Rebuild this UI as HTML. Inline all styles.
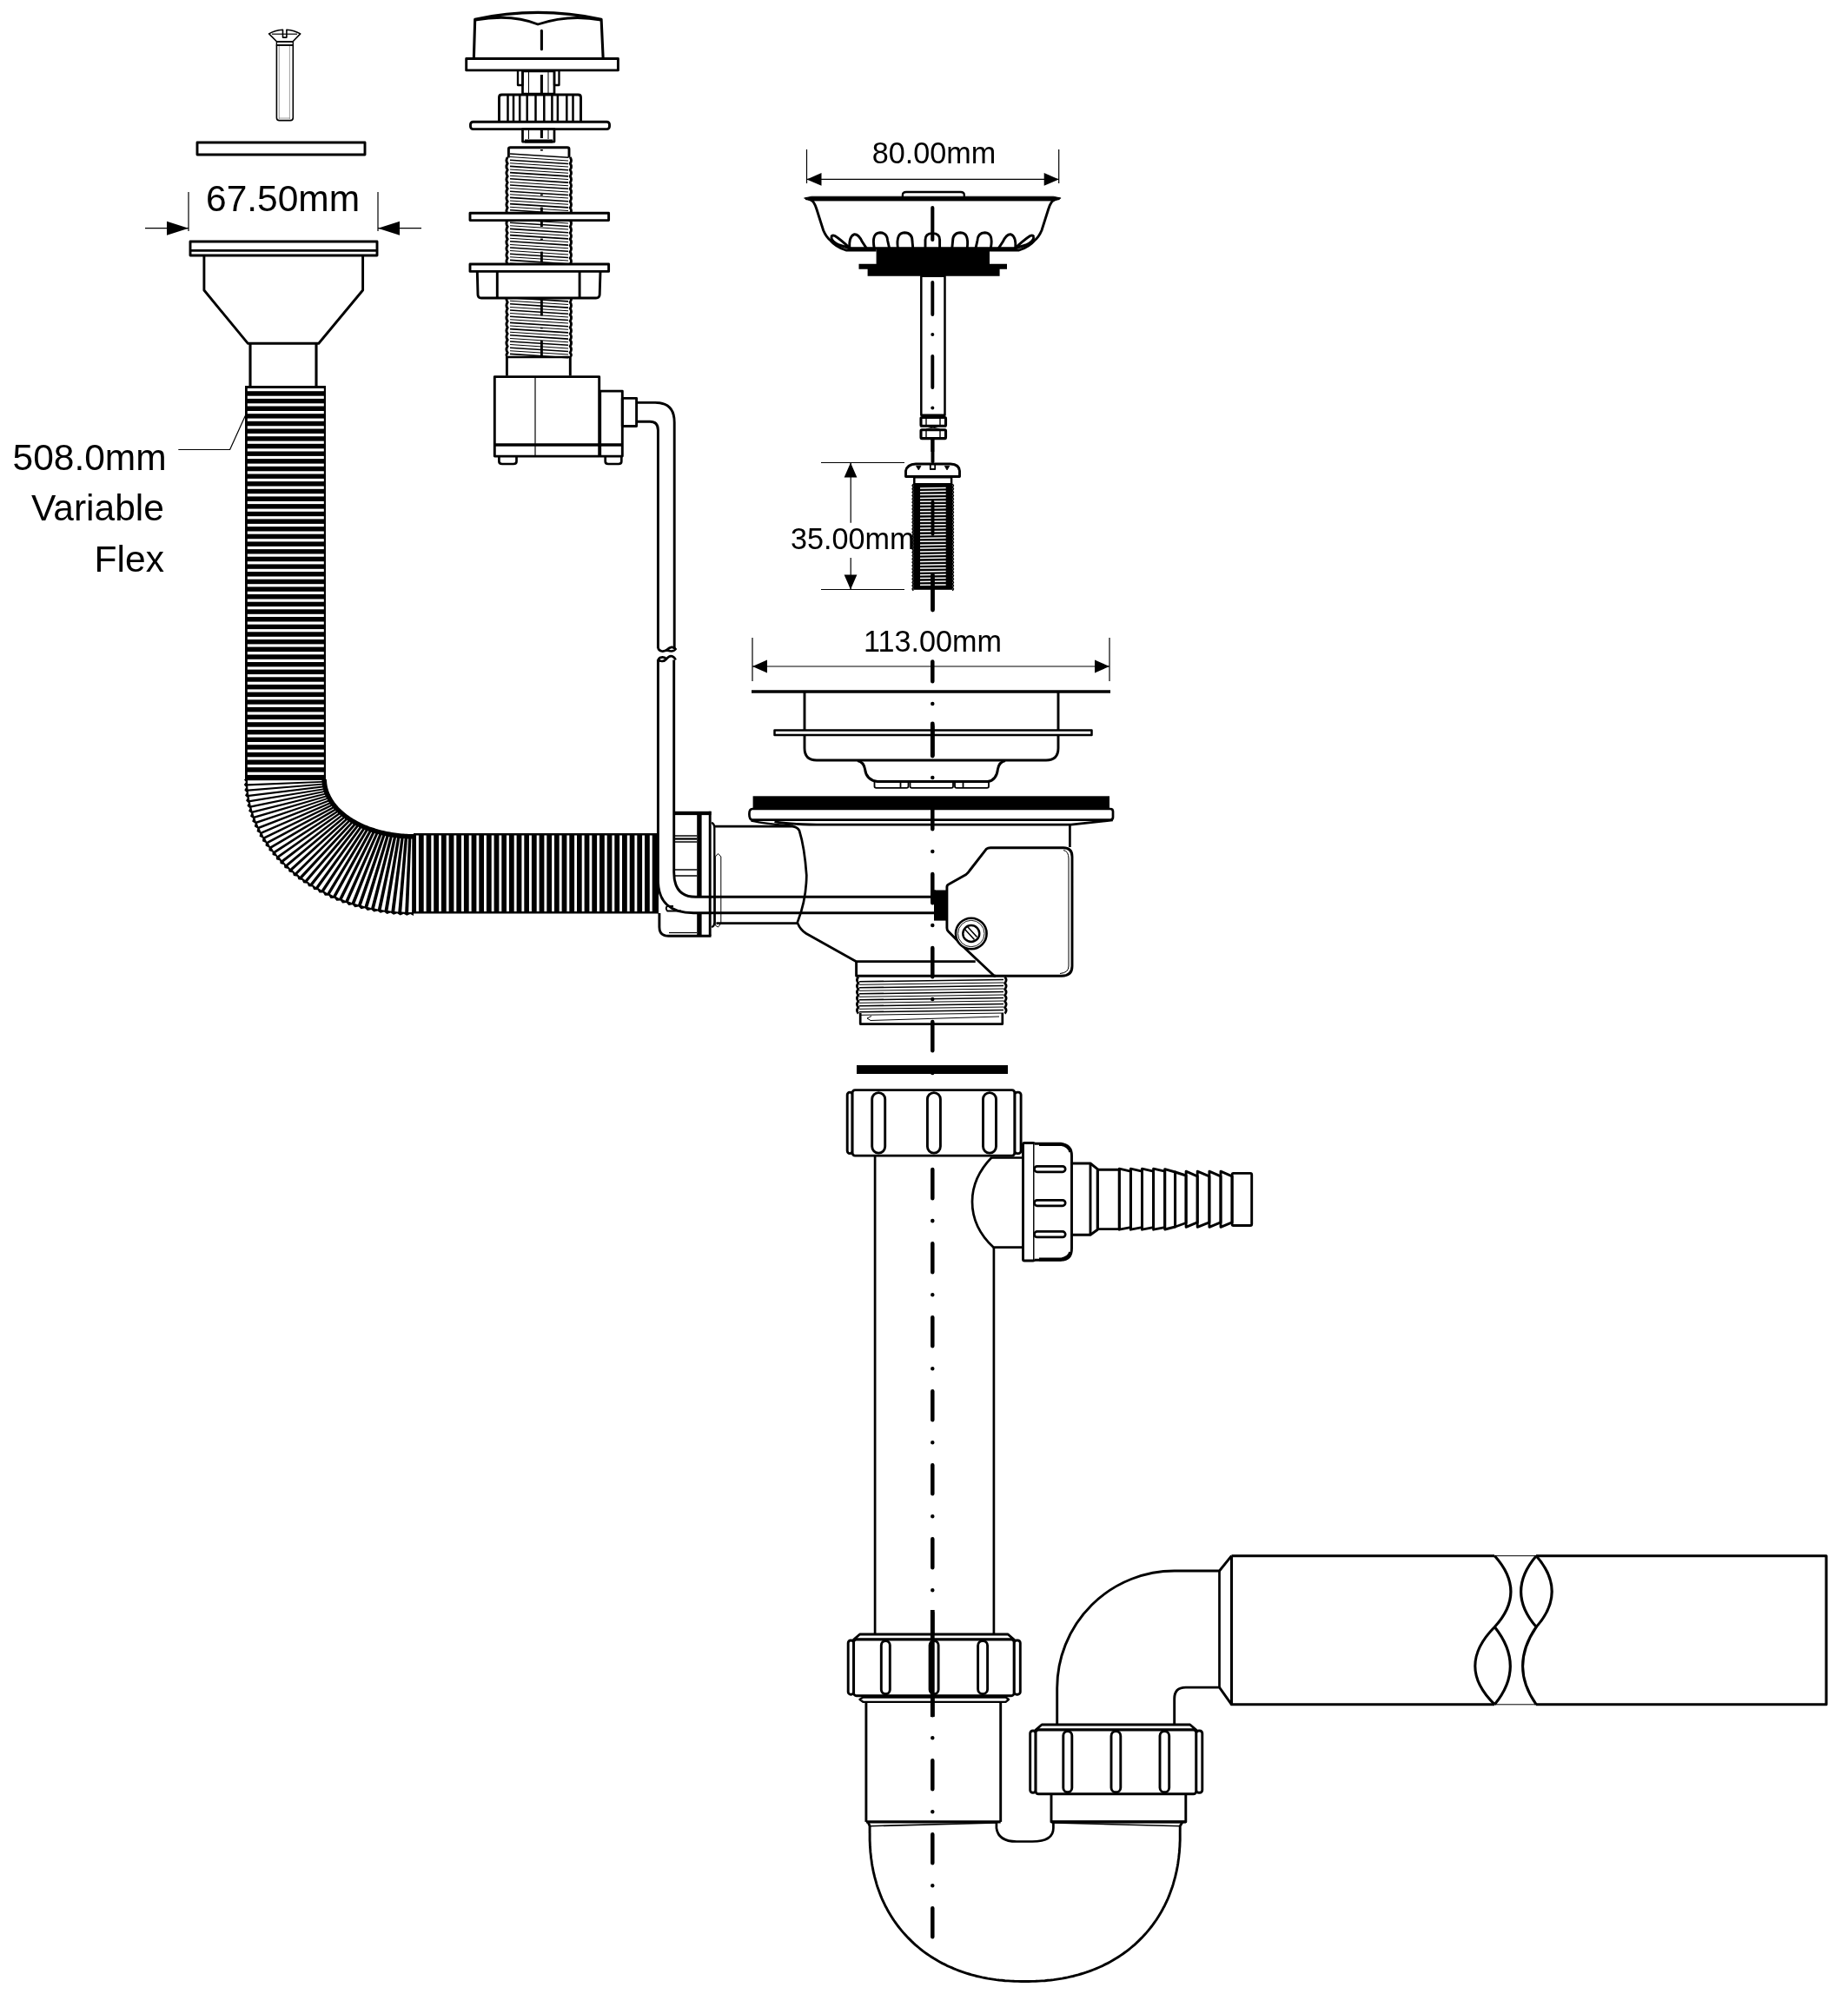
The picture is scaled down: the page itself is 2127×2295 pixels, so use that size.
<!DOCTYPE html>
<html><head><meta charset="utf-8"><style>
html,body{margin:0;padding:0;background:#fff;}
svg{display:block;will-change:transform;}
text{font-family:"Liberation Sans",sans-serif;-webkit-font-smoothing:antialiased;}
</style></head><body>
<svg width="2127" height="2295" viewBox="0 0 2127 2295" stroke="#000" fill="none" stroke-linejoin="round">
<rect x="0" y="0" width="2127" height="2295" fill="#fff" stroke="none"/>
<path d="M309.6,38.9 Q316,35 325.5,34.2 V43.1 H329.9 V34.2 Q339,35 345.7,38.9 L336.9,48 H318.7 Z" stroke-width="1.6" fill="none" />
<line x1="313.0" y1="39.2" x2="342.0" y2="39.2" stroke-width="1.2" />
<line x1="318.7" y1="48.0" x2="336.9" y2="48.0" stroke-width="1.4" />
<path d="M318.4,52 V135.5 Q318.4,138.6 321.5,138.6 H334.2 Q337.3,138.6 337.3,135.5 V52 Z" stroke-width="1.6" fill="none" />
<path d="M318.4,48 V52 H337.3 V48" stroke-width="1.4" fill="none" />
<line x1="321.3" y1="53.0" x2="321.3" y2="137.0" stroke-width="0.8" stroke="#888"/>
<line x1="333.4" y1="53.0" x2="333.4" y2="137.0" stroke-width="0.8" stroke="#888"/>
<line x1="321.0" y1="136.0" x2="334.0" y2="136.0" stroke-width="0.8" stroke="#888"/>
<rect x="227.0" y="164.0" width="193.0" height="14.0" rx="0" stroke-width="2.9" fill="none" />
<line x1="217.0" y1="221.0" x2="217.0" y2="266.0" stroke-width="1.2" />
<line x1="435.0" y1="221.0" x2="435.0" y2="266.0" stroke-width="1.2" />
<line x1="167.0" y1="262.7" x2="217.0" y2="262.7" stroke-width="1.2" />
<line x1="435.0" y1="262.7" x2="485.0" y2="262.7" stroke-width="1.2" />
<path d="M217.0,262.7 L192.0,270.7 L192.0,254.7 Z" fill="#000" stroke="none"/>
<path d="M435.0,262.7 L460.0,254.7 L460.0,270.7 Z" fill="#000" stroke="none"/>
<text x="237.0" y="243.3" font-size="42.5" text-anchor="start" fill="#000" stroke="none">67.50mm</text>
<rect x="219.0" y="278.0" width="215.0" height="16.0" rx="0" stroke-width="2.9" fill="none" />
<line x1="220.0" y1="288.3" x2="433.0" y2="288.3" stroke-width="2.7" />
<path d="M234.9,294 V334 L285.2,395.2 H366.8 L417.6,334 V294" stroke-width="2.9" fill="none" />
<line x1="288.0" y1="396.0" x2="288.0" y2="444.0" stroke-width="3.1" />
<line x1="364.0" y1="396.0" x2="364.0" y2="444.0" stroke-width="3.1" />
<rect x="282.0" y="444.0" width="93.0" height="453.0" fill="#000" stroke="none"/>
<rect x="284.8" y="447.0" width="88" height="3.2" fill="#fff" stroke="none"/>
<rect x="284.8" y="455.7" width="88" height="3.2" fill="#fff" stroke="none"/>
<rect x="284.8" y="464.3" width="88" height="3.2" fill="#fff" stroke="none"/>
<rect x="284.8" y="473.0" width="88" height="3.2" fill="#fff" stroke="none"/>
<rect x="284.8" y="481.6" width="88" height="3.2" fill="#fff" stroke="none"/>
<rect x="284.8" y="490.3" width="88" height="3.2" fill="#fff" stroke="none"/>
<rect x="284.8" y="499.0" width="88" height="3.2" fill="#fff" stroke="none"/>
<rect x="284.8" y="507.6" width="88" height="3.2" fill="#fff" stroke="none"/>
<rect x="284.8" y="516.3" width="88" height="3.2" fill="#fff" stroke="none"/>
<rect x="284.8" y="524.9" width="88" height="3.2" fill="#fff" stroke="none"/>
<rect x="284.8" y="533.6" width="88" height="3.2" fill="#fff" stroke="none"/>
<rect x="284.8" y="542.3" width="88" height="3.2" fill="#fff" stroke="none"/>
<rect x="284.8" y="550.9" width="88" height="3.2" fill="#fff" stroke="none"/>
<rect x="284.8" y="559.6" width="88" height="3.2" fill="#fff" stroke="none"/>
<rect x="284.8" y="568.2" width="88" height="3.2" fill="#fff" stroke="none"/>
<rect x="284.8" y="576.9" width="88" height="3.2" fill="#fff" stroke="none"/>
<rect x="284.8" y="585.6" width="88" height="3.2" fill="#fff" stroke="none"/>
<rect x="284.8" y="594.2" width="88" height="3.2" fill="#fff" stroke="none"/>
<rect x="284.8" y="602.9" width="88" height="3.2" fill="#fff" stroke="none"/>
<rect x="284.8" y="611.5" width="88" height="3.2" fill="#fff" stroke="none"/>
<rect x="284.8" y="620.2" width="88" height="3.2" fill="#fff" stroke="none"/>
<rect x="284.8" y="628.9" width="88" height="3.2" fill="#fff" stroke="none"/>
<rect x="284.8" y="637.5" width="88" height="3.2" fill="#fff" stroke="none"/>
<rect x="284.8" y="646.2" width="88" height="3.2" fill="#fff" stroke="none"/>
<rect x="284.8" y="654.8" width="88" height="3.2" fill="#fff" stroke="none"/>
<rect x="284.8" y="663.5" width="88" height="3.2" fill="#fff" stroke="none"/>
<rect x="284.8" y="672.2" width="88" height="3.2" fill="#fff" stroke="none"/>
<rect x="284.8" y="680.8" width="88" height="3.2" fill="#fff" stroke="none"/>
<rect x="284.8" y="689.5" width="88" height="3.2" fill="#fff" stroke="none"/>
<rect x="284.8" y="698.1" width="88" height="3.2" fill="#fff" stroke="none"/>
<rect x="284.8" y="706.8" width="88" height="3.2" fill="#fff" stroke="none"/>
<rect x="284.8" y="715.5" width="88" height="3.2" fill="#fff" stroke="none"/>
<rect x="284.8" y="724.1" width="88" height="3.2" fill="#fff" stroke="none"/>
<rect x="284.8" y="732.8" width="88" height="3.2" fill="#fff" stroke="none"/>
<rect x="284.8" y="741.4" width="88" height="3.2" fill="#fff" stroke="none"/>
<rect x="284.8" y="750.1" width="88" height="3.2" fill="#fff" stroke="none"/>
<rect x="284.8" y="758.8" width="88" height="3.2" fill="#fff" stroke="none"/>
<rect x="284.8" y="767.4" width="88" height="3.2" fill="#fff" stroke="none"/>
<rect x="284.8" y="776.1" width="88" height="3.2" fill="#fff" stroke="none"/>
<rect x="284.8" y="784.7" width="88" height="3.2" fill="#fff" stroke="none"/>
<rect x="284.8" y="793.4" width="88" height="3.2" fill="#fff" stroke="none"/>
<rect x="284.8" y="802.1" width="88" height="3.2" fill="#fff" stroke="none"/>
<rect x="284.8" y="810.7" width="88" height="3.2" fill="#fff" stroke="none"/>
<rect x="284.8" y="819.4" width="88" height="3.2" fill="#fff" stroke="none"/>
<rect x="284.8" y="828.0" width="88" height="3.2" fill="#fff" stroke="none"/>
<rect x="284.8" y="836.7" width="88" height="3.2" fill="#fff" stroke="none"/>
<rect x="284.8" y="845.4" width="88" height="3.2" fill="#fff" stroke="none"/>
<rect x="284.8" y="854.0" width="88" height="3.2" fill="#fff" stroke="none"/>
<rect x="284.8" y="862.7" width="88" height="3.2" fill="#fff" stroke="none"/>
<rect x="284.8" y="871.3" width="88" height="3.2" fill="#fff" stroke="none"/>
<rect x="284.8" y="880.0" width="88" height="3.2" fill="#fff" stroke="none"/>
<rect x="284.8" y="888.7" width="88" height="3.2" fill="#fff" stroke="none"/>
<path d="M280.7,897.0 L283.0,900.0 L280.8,903.2 L283.3,906.1 L281.3,909.3 L283.9,912.2 L282.0,915.4 L284.8,918.2 L283.1,921.5 L286.0,924.2 L284.4,927.6 L287.5,930.2 L286.1,933.6 L289.3,936.1 L288.0,939.6 L291.3,942.0 L290.2,945.5 L293.7,947.8 L292.8,951.3 L296.3,953.5 L295.6,957.0 L299.2,959.1 L298.6,962.7 L302.3,964.6 L302.0,968.2 L305.8,970.1 L305.6,973.6 L309.5,975.4 L309.5,979.0 L313.5,980.6 L313.6,984.1 L317.7,985.6 L318.0,989.2 L322.1,990.6 L322.6,994.1 L326.8,995.3 L327.5,998.9 L331.7,1000.0 L332.6,1003.5 L336.9,1004.4 L337.9,1007.9 L342.2,1008.7 L343.4,1012.2 L347.8,1012.9 L349.2,1016.3 L353.6,1016.8 L355.1,1020.2 L359.5,1020.6 L361.2,1023.9 L365.6,1024.2 L367.5,1027.4 L371.9,1027.5 L373.9,1030.7 L378.4,1030.7 L380.6,1033.9 L385.0,1033.7 L387.3,1036.8 L391.8,1036.5 L394.2,1039.5 L398.7,1039.0 L401.3,1041.9 L405.7,1041.3 L408.4,1044.2 L412.8,1043.4 L415.6,1046.2 L420.0,1045.3 L423.0,1048.0 L427.3,1047.0 L430.4,1049.5 L434.6,1048.4 L437.9,1050.8 L442.1,1049.6 L445.4,1051.9 L449.6,1050.5 L453.0,1052.8 L457.1,1051.3 L460.7,1053.4 L464.6,1051.7 L468.3,1053.7 L472.2,1052.0 L476.0,1053.9 L476.0,960.0 L474.0,960.0 L472.1,960.0 L470.1,959.9 L468.2,959.8 L466.2,959.7 L464.2,959.6 L462.3,959.4 L460.4,959.2 L458.4,959.0 L456.5,958.8 L454.6,958.5 L452.7,958.3 L450.8,958.0 L448.9,957.6 L447.0,957.3 L445.1,956.9 L443.2,956.5 L441.4,956.1 L439.6,955.7 L437.7,955.2 L435.9,954.7 L434.1,954.2 L432.4,953.7 L430.6,953.1 L428.9,952.6 L427.1,952.0 L425.4,951.4 L423.8,950.7 L422.1,950.1 L420.4,949.4 L418.8,948.7 L417.2,948.0 L415.6,947.2 L414.1,946.5 L412.6,945.7 L411.1,944.9 L409.6,944.1 L408.1,943.3 L406.7,942.4 L405.3,941.5 L403.9,940.7 L402.6,939.8 L401.2,938.8 L400.0,937.9 L398.7,937.0 L397.5,936.0 L396.3,935.0 L395.1,934.0 L394.0,933.0 L392.9,932.0 L391.8,931.0 L390.7,929.9 L389.7,928.9 L388.8,927.8 L387.8,926.7 L386.9,925.6 L386.0,924.5 L385.2,923.4 L384.4,922.2 L383.6,921.1 L382.9,920.0 L382.2,918.8 L381.5,917.6 L380.9,916.5 L380.3,915.3 L379.8,914.1 L379.2,912.9 L378.8,911.7 L378.3,910.5 L377.9,909.3 L377.6,908.1 L377.2,906.9 L376.9,905.6 L376.7,904.4 L376.5,903.2 L376.3,901.9 L376.2,900.7 L376.1,899.5 L376.0,898.2 L376.0,897.0 Z" stroke-width="0.0" fill="#000" stroke="none"/>
<path d="M370.4,897.9 L285.0,898.2 L285.1,902.2 L370.5,898.9 Z" fill="#fff" stroke="none"/>
<path d="M370.6,900.7 L285.2,904.5 L285.5,908.5 L370.7,901.7 Z" fill="#fff" stroke="none"/>
<path d="M370.9,903.6 L285.8,910.8 L286.2,914.8 L371.0,904.6 Z" fill="#fff" stroke="none"/>
<path d="M371.5,906.4 L286.7,917.1 L287.3,921.0 L371.6,907.4 Z" fill="#fff" stroke="none"/>
<path d="M372.1,909.2 L287.9,923.3 L288.7,927.3 L372.3,910.2 Z" fill="#fff" stroke="none"/>
<path d="M373.0,912.0 L289.5,929.5 L290.4,933.4 L373.2,912.9 Z" fill="#fff" stroke="none"/>
<path d="M374.1,914.7 L291.3,935.7 L292.4,939.5 L374.3,915.7 Z" fill="#fff" stroke="none"/>
<path d="M375.3,917.4 L293.5,941.8 L294.7,945.6 L375.6,918.4 Z" fill="#fff" stroke="none"/>
<path d="M376.7,920.1 L296.0,947.8 L297.4,951.5 L377.0,921.1 Z" fill="#fff" stroke="none"/>
<path d="M378.3,922.8 L298.8,953.7 L300.3,957.4 L378.6,923.7 Z" fill="#fff" stroke="none"/>
<path d="M380.0,925.4 L301.9,959.5 L303.5,963.2 L380.4,926.3 Z" fill="#fff" stroke="none"/>
<path d="M381.9,927.9 L305.3,965.2 L307.1,968.8 L382.4,928.8 Z" fill="#fff" stroke="none"/>
<path d="M384.0,930.4 L309.0,970.8 L310.9,974.3 L384.4,931.3 Z" fill="#fff" stroke="none"/>
<path d="M386.2,932.9 L312.9,976.3 L315.0,979.7 L386.7,933.7 Z" fill="#fff" stroke="none"/>
<path d="M388.5,935.2 L317.2,981.7 L319.4,985.0 L389.1,936.1 Z" fill="#fff" stroke="none"/>
<path d="M391.1,937.6 L321.7,986.8 L324.1,990.1 L391.7,938.4 Z" fill="#fff" stroke="none"/>
<path d="M393.7,939.8 L326.5,991.9 L329.0,995.0 L394.4,940.6 Z" fill="#fff" stroke="none"/>
<path d="M396.5,942.0 L331.5,996.8 L334.1,999.8 L397.2,942.7 Z" fill="#fff" stroke="none"/>
<path d="M399.5,944.1 L336.8,1001.5 L339.6,1004.4 L400.2,944.8 Z" fill="#fff" stroke="none"/>
<path d="M402.5,946.1 L342.3,1006.0 L345.2,1008.8 L403.3,946.8 Z" fill="#fff" stroke="none"/>
<path d="M405.7,948.0 L348.1,1010.4 L351.1,1013.0 L406.5,948.7 Z" fill="#fff" stroke="none"/>
<path d="M409.1,949.9 L354.0,1014.5 L357.1,1017.0 L409.8,950.5 Z" fill="#fff" stroke="none"/>
<path d="M412.5,951.6 L360.2,1018.5 L363.4,1020.9 L413.3,952.2 Z" fill="#fff" stroke="none"/>
<path d="M416.0,953.3 L366.6,1022.2 L369.9,1024.5 L416.9,953.9 Z" fill="#fff" stroke="none"/>
<path d="M419.7,954.9 L373.2,1025.7 L376.6,1027.9 L420.5,955.4 Z" fill="#fff" stroke="none"/>
<path d="M423.4,956.3 L379.9,1029.0 L383.4,1031.0 L424.3,956.8 Z" fill="#fff" stroke="none"/>
<path d="M427.2,957.7 L386.8,1032.1 L390.4,1034.0 L428.1,958.2 Z" fill="#fff" stroke="none"/>
<path d="M431.1,959.0 L393.9,1035.0 L397.5,1036.7 L432.1,959.4 Z" fill="#fff" stroke="none"/>
<path d="M435.1,960.1 L401.1,1037.6 L404.8,1039.1 L436.1,960.5 Z" fill="#fff" stroke="none"/>
<path d="M439.2,961.2 L408.4,1040.0 L412.1,1041.3 L440.1,961.5 Z" fill="#fff" stroke="none"/>
<path d="M443.3,962.1 L415.8,1042.1 L419.6,1043.3 L444.3,962.4 Z" fill="#fff" stroke="none"/>
<path d="M447.5,962.9 L423.4,1044.0 L427.2,1045.0 L448.5,963.2 Z" fill="#fff" stroke="none"/>
<path d="M451.7,963.6 L431.0,1045.6 L434.9,1046.5 L452.7,963.9 Z" fill="#fff" stroke="none"/>
<path d="M456.0,964.2 L438.7,1047.0 L442.6,1047.7 L457.0,964.4 Z" fill="#fff" stroke="none"/>
<path d="M460.3,964.7 L446.5,1048.1 L450.4,1048.7 L461.3,964.9 Z" fill="#fff" stroke="none"/>
<path d="M464.6,965.1 L454.3,1049.0 L458.3,1049.4 L465.6,965.2 Z" fill="#fff" stroke="none"/>
<path d="M469.0,965.4 L462.2,1049.6 L466.2,1049.8 L470.0,965.4 Z" fill="#fff" stroke="none"/>
<path d="M473.3,965.5 L470.1,1049.9 L474.1,1050.0 L474.3,965.5 Z" fill="#fff" stroke="none"/>
<rect x="476.0" y="959.0" width="282.0" height="92.5" fill="#000" stroke="none"/>
<rect x="479.0" y="961.5" width="2.9" height="87.5" fill="#fff" stroke="none"/>
<rect x="487.7" y="961.5" width="2.9" height="87.5" fill="#fff" stroke="none"/>
<rect x="496.3" y="961.5" width="2.9" height="87.5" fill="#fff" stroke="none"/>
<rect x="505.0" y="961.5" width="2.9" height="87.5" fill="#fff" stroke="none"/>
<rect x="513.7" y="961.5" width="2.9" height="87.5" fill="#fff" stroke="none"/>
<rect x="522.4" y="961.5" width="2.9" height="87.5" fill="#fff" stroke="none"/>
<rect x="531.0" y="961.5" width="2.9" height="87.5" fill="#fff" stroke="none"/>
<rect x="539.7" y="961.5" width="2.9" height="87.5" fill="#fff" stroke="none"/>
<rect x="548.4" y="961.5" width="2.9" height="87.5" fill="#fff" stroke="none"/>
<rect x="557.0" y="961.5" width="2.9" height="87.5" fill="#fff" stroke="none"/>
<rect x="565.7" y="961.5" width="2.9" height="87.5" fill="#fff" stroke="none"/>
<rect x="574.4" y="961.5" width="2.9" height="87.5" fill="#fff" stroke="none"/>
<rect x="583.0" y="961.5" width="2.9" height="87.5" fill="#fff" stroke="none"/>
<rect x="591.7" y="961.5" width="2.9" height="87.5" fill="#fff" stroke="none"/>
<rect x="600.4" y="961.5" width="2.9" height="87.5" fill="#fff" stroke="none"/>
<rect x="609.0" y="961.5" width="2.9" height="87.5" fill="#fff" stroke="none"/>
<rect x="617.7" y="961.5" width="2.9" height="87.5" fill="#fff" stroke="none"/>
<rect x="626.4" y="961.5" width="2.9" height="87.5" fill="#fff" stroke="none"/>
<rect x="635.1" y="961.5" width="2.9" height="87.5" fill="#fff" stroke="none"/>
<rect x="643.7" y="961.5" width="2.9" height="87.5" fill="#fff" stroke="none"/>
<rect x="652.4" y="961.5" width="2.9" height="87.5" fill="#fff" stroke="none"/>
<rect x="661.1" y="961.5" width="2.9" height="87.5" fill="#fff" stroke="none"/>
<rect x="669.7" y="961.5" width="2.9" height="87.5" fill="#fff" stroke="none"/>
<rect x="678.4" y="961.5" width="2.9" height="87.5" fill="#fff" stroke="none"/>
<rect x="687.1" y="961.5" width="2.9" height="87.5" fill="#fff" stroke="none"/>
<rect x="695.8" y="961.5" width="2.9" height="87.5" fill="#fff" stroke="none"/>
<rect x="704.4" y="961.5" width="2.9" height="87.5" fill="#fff" stroke="none"/>
<rect x="713.1" y="961.5" width="2.9" height="87.5" fill="#fff" stroke="none"/>
<rect x="721.8" y="961.5" width="2.9" height="87.5" fill="#fff" stroke="none"/>
<rect x="730.4" y="961.5" width="2.9" height="87.5" fill="#fff" stroke="none"/>
<rect x="739.1" y="961.5" width="2.9" height="87.5" fill="#fff" stroke="none"/>
<rect x="747.8" y="961.5" width="2.9" height="87.5" fill="#fff" stroke="none"/>
<text x="14.5" y="541.4" font-size="42.5" text-anchor="start" fill="#000" stroke="none">508.0mm</text>
<text x="36.1" y="599" font-size="42.5" text-anchor="start" fill="#000" stroke="none">Variable</text>
<text x="108.6" y="657.5" font-size="42.5" text-anchor="start" fill="#000" stroke="none">Flex</text>
<path d="M205.3,517.5 H264.6 L282.3,478.5" stroke-width="1.2" fill="none" />
<path d="M545.4,66 L546.7,22.2 Q619,6.5 692.1,22.2 L694.1,66" stroke-width="3.1" fill="none" />
<path d="M546.7,23 C575,18 600,20 619.1,28 C640,21 665,18 692,23" stroke-width="2.9" fill="none" />
<line x1="623.4" y1="35.2" x2="623.4" y2="56.7" stroke-width="3.1" stroke-linecap="round"/>
<rect x="536.7" y="67.5" width="174.7" height="13.4" rx="0" stroke-width="2.9" fill="none" />
<rect x="601.5" y="82.0" width="36.5" height="26.0" rx="0" stroke-width="2.7" fill="none" />
<path d="M601.5,82 V98 H596 V82" stroke-width="2.3" fill="none" />
<path d="M638,82 V98 H643.5 V82" stroke-width="2.3" fill="none" />
<line x1="608.5" y1="83.0" x2="608.5" y2="107.0" stroke-width="1.0" />
<line x1="631.0" y1="83.0" x2="631.0" y2="107.0" stroke-width="1.0" />
<line x1="623.4" y1="86.0" x2="623.4" y2="108.0" stroke-width="3.1" />
<path d="M574.5,139.5 V112 Q574.5,109 577.5,109 H665.5 Q668.5,109 668.5,112 V139.5" stroke-width="2.9" fill="none" />
<line x1="584.5" y1="110.0" x2="584.5" y2="139.0" stroke-width="2.5" />
<line x1="591.0" y1="110.0" x2="591.0" y2="139.0" stroke-width="2.5" />
<line x1="598.2" y1="110.0" x2="598.2" y2="139.0" stroke-width="2.5" />
<line x1="606.7" y1="110.0" x2="606.7" y2="139.0" stroke-width="2.5" />
<line x1="616.5" y1="110.0" x2="616.5" y2="139.0" stroke-width="2.5" />
<line x1="626.3" y1="110.0" x2="626.3" y2="139.0" stroke-width="2.5" />
<line x1="635.4" y1="110.0" x2="635.4" y2="139.0" stroke-width="2.5" />
<line x1="641.9" y1="110.0" x2="641.9" y2="139.0" stroke-width="2.5" />
<line x1="652.3" y1="110.0" x2="652.3" y2="139.0" stroke-width="2.5" />
<line x1="659.5" y1="110.0" x2="659.5" y2="139.0" stroke-width="2.5" />
<rect x="541.5" y="140.2" width="160.0" height="8.4" rx="3" stroke-width="2.9" fill="none" />
<rect x="601.5" y="148.6" width="36.5" height="14.5" rx="0" stroke-width="2.7" fill="none" />
<rect x="604.0" y="160.5" width="32.0" height="4.0" fill="#000" stroke="none"/>
<line x1="623.4" y1="149.0" x2="623.4" y2="159.0" stroke-width="3.1" />
<line x1="608.5" y1="149.0" x2="608.5" y2="160.0" stroke-width="1.0" />
<line x1="631.0" y1="149.0" x2="631.0" y2="160.0" stroke-width="1.0" />
<path d="M585.4,181.6 V171.5 Q585.4,169.7 587.5,169.7 H653 Q655,169.7 655,171.5 V181.6" stroke-width="2.9" fill="none" />
<line x1="587.0" y1="177.0" x2="654.0" y2="181.3" stroke-width="1.62"/>
<line x1="587.0" y1="180.6" x2="654.0" y2="184.9" stroke-width="1.04"/>
<line x1="587.0" y1="184.2" x2="654.0" y2="188.5" stroke-width="1.62"/>
<line x1="587.0" y1="187.8" x2="654.0" y2="192.1" stroke-width="1.04"/>
<line x1="587.0" y1="191.4" x2="654.0" y2="195.7" stroke-width="1.62"/>
<line x1="587.0" y1="195.0" x2="654.0" y2="199.3" stroke-width="1.04"/>
<line x1="587.0" y1="198.6" x2="654.0" y2="202.9" stroke-width="1.62"/>
<line x1="587.0" y1="202.2" x2="654.0" y2="206.5" stroke-width="1.04"/>
<line x1="587.0" y1="205.8" x2="654.0" y2="210.1" stroke-width="1.62"/>
<line x1="587.0" y1="209.4" x2="654.0" y2="213.7" stroke-width="1.04"/>
<line x1="587.0" y1="213.0" x2="654.0" y2="217.3" stroke-width="1.62"/>
<line x1="587.0" y1="216.6" x2="654.0" y2="220.9" stroke-width="1.04"/>
<line x1="587.0" y1="220.2" x2="654.0" y2="224.5" stroke-width="1.62"/>
<line x1="587.0" y1="223.8" x2="654.0" y2="228.1" stroke-width="1.04"/>
<line x1="587.0" y1="227.4" x2="654.0" y2="231.7" stroke-width="1.62"/>
<line x1="587.0" y1="231.0" x2="654.0" y2="235.3" stroke-width="1.04"/>
<line x1="587.0" y1="234.6" x2="654.0" y2="238.9" stroke-width="1.62"/>
<line x1="587.0" y1="238.2" x2="654.0" y2="242.5" stroke-width="1.04"/>
<line x1="587.0" y1="241.8" x2="654.0" y2="246.1" stroke-width="1.62"/>
<line x1="587.0" y1="245.4" x2="654.0" y2="249.7" stroke-width="1.04"/>
<line x1="587.0" y1="249.0" x2="654.0" y2="253.3" stroke-width="1.62"/>
<line x1="587.0" y1="252.6" x2="654.0" y2="256.9" stroke-width="1.04"/>
<line x1="587.0" y1="256.2" x2="654.0" y2="260.5" stroke-width="1.62"/>
<line x1="587.0" y1="259.8" x2="654.0" y2="264.1" stroke-width="1.04"/>
<line x1="587.0" y1="263.4" x2="654.0" y2="267.7" stroke-width="1.62"/>
<line x1="587.0" y1="267.0" x2="654.0" y2="271.3" stroke-width="1.04"/>
<line x1="587.0" y1="270.6" x2="654.0" y2="274.9" stroke-width="1.62"/>
<line x1="587.0" y1="274.2" x2="654.0" y2="278.5" stroke-width="1.04"/>
<line x1="587.0" y1="277.8" x2="654.0" y2="282.1" stroke-width="1.62"/>
<line x1="587.0" y1="281.4" x2="654.0" y2="285.7" stroke-width="1.04"/>
<line x1="587.0" y1="285.0" x2="654.0" y2="289.3" stroke-width="1.62"/>
<line x1="587.0" y1="288.6" x2="654.0" y2="292.9" stroke-width="1.04"/>
<line x1="587.0" y1="292.2" x2="654.0" y2="296.5" stroke-width="1.62"/>
<line x1="587.0" y1="295.8" x2="654.0" y2="300.1" stroke-width="1.04"/>
<line x1="587.0" y1="299.4" x2="654.0" y2="303.7" stroke-width="1.62"/>
<line x1="587.0" y1="303.0" x2="654.0" y2="307.3" stroke-width="1.04"/>
<line x1="587.0" y1="306.6" x2="654.0" y2="310.9" stroke-width="1.62"/>
<line x1="587.0" y1="310.2" x2="654.0" y2="314.5" stroke-width="1.04"/>
<line x1="587.0" y1="313.8" x2="654.0" y2="318.1" stroke-width="1.62"/>
<line x1="587.0" y1="317.4" x2="654.0" y2="321.7" stroke-width="1.04"/>
<line x1="587.0" y1="321.0" x2="654.0" y2="325.3" stroke-width="1.62"/>
<line x1="587.0" y1="324.6" x2="654.0" y2="328.9" stroke-width="1.04"/>
<line x1="587.0" y1="328.2" x2="654.0" y2="332.5" stroke-width="1.62"/>
<line x1="587.0" y1="331.8" x2="654.0" y2="336.1" stroke-width="1.04"/>
<line x1="587.0" y1="335.4" x2="654.0" y2="339.7" stroke-width="1.62"/>
<line x1="587.0" y1="339.0" x2="654.0" y2="343.3" stroke-width="1.04"/>
<line x1="587.0" y1="342.6" x2="654.0" y2="346.9" stroke-width="1.62"/>
<line x1="587.0" y1="346.2" x2="654.0" y2="350.5" stroke-width="1.04"/>
<line x1="587.0" y1="349.8" x2="654.0" y2="354.1" stroke-width="1.62"/>
<line x1="587.0" y1="353.4" x2="654.0" y2="357.7" stroke-width="1.04"/>
<line x1="587.0" y1="357.0" x2="654.0" y2="361.3" stroke-width="1.62"/>
<line x1="587.0" y1="360.6" x2="654.0" y2="364.9" stroke-width="1.04"/>
<line x1="587.0" y1="364.2" x2="654.0" y2="368.5" stroke-width="1.62"/>
<line x1="587.0" y1="367.8" x2="654.0" y2="372.1" stroke-width="1.04"/>
<line x1="587.0" y1="371.4" x2="654.0" y2="375.7" stroke-width="1.62"/>
<line x1="587.0" y1="375.0" x2="654.0" y2="379.3" stroke-width="1.04"/>
<line x1="587.0" y1="378.6" x2="654.0" y2="382.9" stroke-width="1.62"/>
<line x1="587.0" y1="382.2" x2="654.0" y2="386.5" stroke-width="1.04"/>
<line x1="587.0" y1="385.8" x2="654.0" y2="390.1" stroke-width="1.62"/>
<line x1="587.0" y1="389.4" x2="654.0" y2="393.7" stroke-width="1.04"/>
<line x1="587.0" y1="393.0" x2="654.0" y2="397.3" stroke-width="1.62"/>
<line x1="587.0" y1="396.6" x2="654.0" y2="400.9" stroke-width="1.04"/>
<line x1="587.0" y1="400.2" x2="654.0" y2="404.5" stroke-width="1.62"/>
<line x1="587.0" y1="403.8" x2="654.0" y2="408.1" stroke-width="1.04"/>
<line x1="587.0" y1="407.4" x2="654.0" y2="411.7" stroke-width="1.62"/>
<path d="M584.2,181.0 Q581.6,184.6 584.2,188.2 Q581.6,191.9 584.2,195.5 Q581.6,199.1 584.2,202.8 Q581.6,206.4 584.2,210.0 Q581.6,213.6 584.2,217.2 Q581.6,220.9 584.2,224.5 Q581.6,228.1 584.2,231.8 Q581.6,235.4 584.2,239.0 Q581.6,242.6 584.2,246.2 Q581.6,249.9 584.2,253.5 Q581.6,257.1 584.2,260.8 Q581.6,264.4 584.2,268.0 Q581.6,271.6 584.2,275.2 Q581.6,278.9 584.2,282.5 Q581.6,286.1 584.2,289.8 Q581.6,293.4 584.2,297.0 Q581.6,300.6 584.2,304.2 Q581.6,307.9 584.2,311.5 Q581.6,315.1 584.2,318.8 Q581.6,322.4 584.2,326.0 Q581.6,329.6 584.2,333.2 Q581.6,336.9 584.2,340.5 Q581.6,344.1 584.2,347.8 Q581.6,351.4 584.2,355.0 Q581.6,358.6 584.2,362.2 Q581.6,365.9 584.2,369.5 Q581.6,373.1 584.2,376.8 Q581.6,380.4 584.2,384.0 Q581.6,387.6 584.2,391.2 Q581.6,394.9 584.2,398.5 Q581.6,402.1 584.2,405.8 Q581.6,409.4 584.2,410.0 " stroke-width="2.9" fill="none" />
<g transform="translate(1240.4,0) scale(-1,1)">
<path d="M584.2,181.0 Q581.6,184.6 584.2,188.2 Q581.6,191.9 584.2,195.5 Q581.6,199.1 584.2,202.8 Q581.6,206.4 584.2,210.0 Q581.6,213.6 584.2,217.2 Q581.6,220.9 584.2,224.5 Q581.6,228.1 584.2,231.8 Q581.6,235.4 584.2,239.0 Q581.6,242.6 584.2,246.2 Q581.6,249.9 584.2,253.5 Q581.6,257.1 584.2,260.8 Q581.6,264.4 584.2,268.0 Q581.6,271.6 584.2,275.2 Q581.6,278.9 584.2,282.5 Q581.6,286.1 584.2,289.8 Q581.6,293.4 584.2,297.0 Q581.6,300.6 584.2,304.2 Q581.6,307.9 584.2,311.5 Q581.6,315.1 584.2,318.8 Q581.6,322.4 584.2,326.0 Q581.6,329.6 584.2,333.2 Q581.6,336.9 584.2,340.5 Q581.6,344.1 584.2,347.8 Q581.6,351.4 584.2,355.0 Q581.6,358.6 584.2,362.2 Q581.6,365.9 584.2,369.5 Q581.6,373.1 584.2,376.8 Q581.6,380.4 584.2,384.0 Q581.6,387.6 584.2,391.2 Q581.6,394.9 584.2,398.5 Q581.6,402.1 584.2,405.8 Q581.6,409.4 584.2,410.0 " stroke-width="2.9" fill="none" />
</g>
<rect x="541.0" y="245.2" width="159.6" height="8.4" rx="0" stroke-width="2.9" fill="#fff" />
<rect x="541.0" y="304.0" width="159.6" height="8.4" rx="0" stroke-width="2.9" fill="#fff" />
<path d="M549.3,312.4 L550,339 Q550,343 554,343 H686 Q690,343 690.2,339 L691,312.4 Z" stroke-width="2.9" fill="#fff" />
<line x1="572.3" y1="313.0" x2="572.3" y2="343.0" stroke-width="2.9" />
<line x1="667.1" y1="313.0" x2="667.1" y2="343.0" stroke-width="2.9" />
<line x1="623.4" y1="172.0" x2="623.4" y2="173.6" stroke-width="2.9" />
<line x1="623.4" y1="223.5" x2="623.4" y2="225.1" stroke-width="2.9" />
<line x1="623.4" y1="238.6" x2="623.4" y2="244.5" stroke-width="2.9" />
<line x1="623.4" y1="254.3" x2="623.4" y2="261.0" stroke-width="2.9" />
<line x1="623.4" y1="274.6" x2="623.4" y2="276.2" stroke-width="2.9" />
<line x1="623.4" y1="289.6" x2="623.4" y2="302.4" stroke-width="2.9" />
<line x1="623.4" y1="343.8" x2="623.4" y2="363.4" stroke-width="2.9" />
<line x1="623.4" y1="376.8" x2="623.4" y2="378.4" stroke-width="2.9" />
<line x1="623.4" y1="392.0" x2="623.4" y2="410.0" stroke-width="2.9" />
<path d="M583.4,410 V432.6 M656.3,410 V432.6" stroke-width="2.9" fill="none" />
<line x1="584.0" y1="411.0" x2="656.0" y2="411.0" stroke-width="2.7" />
<rect x="569.3" y="433.6" width="120.4" height="91.5" rx="0" stroke-width="2.9" fill="none" />
<line x1="616.0" y1="434.0" x2="616.0" y2="525.0" stroke-width="1.2" />
<line x1="569.3" y1="512.0" x2="716.3" y2="512.0" stroke-width="3.5" />
<rect x="690.7" y="450.1" width="25.6" height="75.0" rx="0" stroke-width="2.9" fill="none" />
<rect x="716.3" y="458.4" width="16.3" height="32.1" rx="0" stroke-width="2.9" fill="none" />
<path d="M574.4,525.5 V531 Q574.4,534 578,534 H591 Q594.5,534 594.5,531 V525.5" stroke-width="2.7" fill="none" />
<path d="M696.7,525.5 V531 Q696.7,534 700,534 H712 Q715.3,534 715.3,531 V525.5" stroke-width="2.7" fill="none" />
<path d="M732.6,463.4 H754 Q776.2,463.4 776.2,486 V747" stroke-width="2.9" fill="none" />
<path d="M732.6,485.2 H748 Q757.4,485.2 757.4,495 V746" stroke-width="2.9" fill="none" />
<path d="M757.4,745.5 C758.5,750.5 764.5,750.5 768,747.5 C771,744.5 775,743.5 777.6,747 C775,750.5 770,750 768,747.5" stroke-width="2.7" fill="none" />
<path d="M757.4,759 C760,755.5 765,755.5 767,758.5 C764,762 759,761.5 757.4,759 M767,758.5 C769,756 772,754.5 774,755.5 C776,756.5 777,758 777.7,759.5" stroke-width="2.7" fill="none" />
<line x1="928.5" y1="172.0" x2="928.5" y2="211.0" stroke-width="1.2" />
<line x1="1218.7" y1="172.0" x2="1218.7" y2="211.0" stroke-width="1.2" />
<line x1="928.5" y1="206.4" x2="1218.7" y2="206.4" stroke-width="1.2" />
<path d="M928.5,206.4 L945.5,199.0 L945.5,213.8 Z" fill="#000" stroke="none"/>
<path d="M1218.7,206.4 L1201.7,213.8 L1201.7,199.0 Z" fill="#000" stroke="none"/>
<text x="1003.8" y="187.7" font-size="34.2" text-anchor="start" fill="#000" stroke="none">80.00mm</text>
<path d="M1038.9,228 V224.5 Q1038.9,221 1043,221 H1105.7 Q1109.8,221 1109.8,224.5 V228" stroke-width="2.3" fill="none" />
<path d="M925.5,228 L934,226.2 H1212.6 L1221.1,228 L1213,231 H933.6 Z" stroke-width="0.8" fill="#000" />
<path d="M927,228.5 Q934,229 936.5,233 Q938.5,236 940,241 L947.7,265.3 Q951,273 955.8,276.7 Q962,284 973.7,288 H1008.6" stroke-width="2.9" fill="none" />
<path d="M 1219.6 228.5 Q 1212.6 229.0 1210.1 233.0 Q 1208.1 236.0 1206.6 241.0 L 1198.9 265.3 Q 1195.6 273.0 1190.8 276.7 Q 1184.6 284.0 1172.9 288.0 H 1138.0" stroke-width="2.9" fill="none" />
<path d="M956.7,272.5 Q958,270 961,271.5 Q968,276 978.6,286 M956.7,272.5 Q957,278 966,282 L978.6,286" stroke-width="2.9" fill="none" />
<path d="M 1189.9 272.5 Q 1188.6 270.0 1185.6 271.5 Q 1178.6 276.0 1168.0 286.0 M 1189.9 272.5 Q 1189.6 278.0 1180.6 282.0 L 1168.0 286.0" stroke-width="2.9" fill="none" />
<path d="M977.8,285.6 Q977,272 983,269.8 Q988,269 992.4,278.3 L997.2,285.6" stroke-width="2.9" fill="none" />
<path d="M 1168.8 285.6 Q 1169.6 272.0 1163.6 269.8 Q 1158.6 269.0 1154.2 278.3 L 1149.4 285.6" stroke-width="2.9" fill="none" />
<path d="M1006.2,285.6 Q1003,268 1013,267.8 Q1021,268 1021.6,276.7 L1023.6,285.6" stroke-width="2.9" fill="none" />
<path d="M 1140.4 285.6 Q 1143.6 268.0 1133.6 267.8 Q 1125.6 268.0 1125.0 276.7 L 1123.0 285.6" stroke-width="2.9" fill="none" />
<path d="M1033.4,285.6 Q1031,268 1041,267.8 Q1050,268 1050,277.5 L1050.8,285.6" stroke-width="2.9" fill="none" />
<path d="M 1113.2 285.6 Q 1115.6 268.0 1105.6 267.8 Q 1096.6 268.0 1096.6 277.5 L 1095.8 285.6" stroke-width="2.9" fill="none" />
<path d="M1065,285.6 V276 Q1065,268.6 1073.3,268.6 Q1081.6,268.6 1081.6,276 V285.6" stroke-width="2.9" fill="none" />
<line x1="1073.3" y1="239.0" x2="1073.3" y2="276.0" stroke-width="4.1" stroke-linecap="round"/>
<line x1="977.0" y1="285.6" x2="1169.6" y2="285.6" stroke-width="2.7" />
<path d="M1008.6,285.6 H1139 V303.8 H1159 V309.8 H1150.6 V317.8 H998.6 V309.8 H988.5 V303.8 H1008.6 Z" fill="#000" stroke="none"/>
<rect x="1060.3" y="317.8" width="27.2" height="160.0" rx="0" stroke-width="2.5" fill="none" />
<line x1="1073.3" y1="325.0" x2="1073.3" y2="362.0" stroke-width="3.9" stroke-linecap="round"/>
<circle cx="1073.3" cy="385" r="2" fill="#000" stroke="none"/>
<line x1="1073.3" y1="410.0" x2="1073.3" y2="446.0" stroke-width="3.9" stroke-linecap="round"/>
<circle cx="1073.3" cy="469.5" r="2" fill="#000" stroke="none"/>
<rect x="1060.0" y="480.5" width="28.5" height="9.8" rx="1" stroke-width="3.1" fill="none" />
<line x1="1066.0" y1="481.0" x2="1066.0" y2="489.0" stroke-width="1.4" />
<line x1="1082.0" y1="481.0" x2="1082.0" y2="489.0" stroke-width="1.4" />
<rect x="1060.0" y="494.8" width="28.5" height="9.8" rx="1" stroke-width="3.1" fill="none" />
<line x1="1066.0" y1="495.0" x2="1066.0" y2="504.0" stroke-width="1.4" />
<line x1="1082.0" y1="495.0" x2="1082.0" y2="504.0" stroke-width="1.4" />
<line x1="1066.0" y1="490.0" x2="1081.5" y2="494.0" stroke-width="1.2" />
<line x1="1081.5" y1="490.0" x2="1066.0" y2="494.0" stroke-width="1.2" />
<line x1="1073.3" y1="505.0" x2="1073.3" y2="520.0" stroke-width="3.9" />
<path d="M1042.5,548.5 V542 Q1044,534.5 1054,534 H1094 Q1104,534.5 1104.5,542 V548.5 Z" stroke-width="2.9" fill="none" />
<path d="M1054.5,536.3 L1057.3,541 L1060,536.3 Z" stroke-width="0.8" fill="#000" />
<path d="M1087.3,536.3 L1090,541 L1092.8,536.3 Z" stroke-width="0.8" fill="#000" />
<path d="M1070.8,534.5 V540 H1076.2 V534.5" stroke-width="1.8" fill="none" />
<line x1="1073.5" y1="505.0" x2="1073.5" y2="531.3" stroke-width="3.9" stroke-linecap="round"/>
<rect x="1052.3" y="549.3" width="42.8" height="8.0" rx="0" stroke-width="2.5" fill="#fff" />
<rect x="1051.2" y="557.0" width="45.1" height="121.8" fill="#000" stroke="none"/>
<line x1="1059" y1="561.9" x2="1088.7" y2="561.5" stroke="#fff" stroke-width="1.5"/>
<line x1="1059" y1="565.7" x2="1088.7" y2="565.3" stroke="#fff" stroke-width="1.5"/>
<line x1="1059" y1="569.6" x2="1088.7" y2="569.2" stroke="#fff" stroke-width="1.5"/>
<line x1="1059" y1="573.4" x2="1088.7" y2="573.0" stroke="#fff" stroke-width="1.5"/>
<line x1="1059" y1="577.3" x2="1088.7" y2="576.9" stroke="#fff" stroke-width="1.5"/>
<line x1="1059" y1="581.1" x2="1088.7" y2="580.7" stroke="#fff" stroke-width="1.5"/>
<line x1="1059" y1="584.9" x2="1088.7" y2="584.5" stroke="#fff" stroke-width="1.5"/>
<line x1="1059" y1="588.8" x2="1088.7" y2="588.4" stroke="#fff" stroke-width="1.5"/>
<line x1="1059" y1="592.6" x2="1088.7" y2="592.2" stroke="#fff" stroke-width="1.5"/>
<line x1="1059" y1="596.5" x2="1088.7" y2="596.1" stroke="#fff" stroke-width="1.5"/>
<line x1="1059" y1="600.3" x2="1088.7" y2="599.9" stroke="#fff" stroke-width="1.5"/>
<line x1="1059" y1="604.1" x2="1088.7" y2="603.7" stroke="#fff" stroke-width="1.5"/>
<line x1="1059" y1="608.0" x2="1088.7" y2="607.6" stroke="#fff" stroke-width="1.5"/>
<line x1="1059" y1="611.8" x2="1088.7" y2="611.4" stroke="#fff" stroke-width="1.5"/>
<line x1="1059" y1="615.7" x2="1088.7" y2="615.3" stroke="#fff" stroke-width="1.5"/>
<line x1="1059" y1="619.5" x2="1088.7" y2="619.1" stroke="#fff" stroke-width="1.5"/>
<line x1="1059" y1="623.3" x2="1088.7" y2="622.9" stroke="#fff" stroke-width="1.5"/>
<line x1="1059" y1="627.2" x2="1088.7" y2="626.8" stroke="#fff" stroke-width="1.5"/>
<line x1="1059" y1="631.0" x2="1088.7" y2="630.6" stroke="#fff" stroke-width="1.5"/>
<line x1="1059" y1="634.9" x2="1088.7" y2="634.5" stroke="#fff" stroke-width="1.5"/>
<line x1="1059" y1="638.7" x2="1088.7" y2="638.3" stroke="#fff" stroke-width="1.5"/>
<line x1="1059" y1="642.5" x2="1088.7" y2="642.1" stroke="#fff" stroke-width="1.5"/>
<line x1="1059" y1="646.4" x2="1088.7" y2="646.0" stroke="#fff" stroke-width="1.5"/>
<line x1="1059" y1="650.2" x2="1088.7" y2="649.8" stroke="#fff" stroke-width="1.5"/>
<line x1="1059" y1="654.1" x2="1088.7" y2="653.7" stroke="#fff" stroke-width="1.5"/>
<line x1="1059" y1="657.9" x2="1088.7" y2="657.5" stroke="#fff" stroke-width="1.5"/>
<line x1="1059" y1="661.7" x2="1088.7" y2="661.3" stroke="#fff" stroke-width="1.5"/>
<line x1="1059" y1="665.6" x2="1088.7" y2="665.2" stroke="#fff" stroke-width="1.5"/>
<line x1="1059" y1="669.4" x2="1088.7" y2="669.0" stroke="#fff" stroke-width="1.5"/>
<line x1="1059" y1="673.3" x2="1088.7" y2="672.9" stroke="#fff" stroke-width="1.5"/>
<path d="M1051.2,557 L1050.0,558.9 L1051.2,560.8 L1050.0,562.7 L1051.2,564.7 L1050.0,566.6 L1051.2,568.5 L1050.0,570.4 L1051.2,572.4 L1050.0,574.3 L1051.2,576.2 L1050.0,578.1 L1051.2,580.0 L1050.0,581.9 L1051.2,583.9 L1050.0,585.8 L1051.2,587.7 L1050.0,589.6 L1051.2,591.6 L1050.0,593.5 L1051.2,595.4 L1050.0,597.3 L1051.2,599.2 L1050.0,601.1 L1051.2,603.1 L1050.0,605.0 L1051.2,606.9 L1050.0,608.8 L1051.2,610.8 L1050.0,612.7 L1051.2,614.6 L1050.0,616.5 L1051.2,618.4 L1050.0,620.3 L1051.2,622.3 L1050.0,624.2 L1051.2,626.1 L1050.0,628.0 L1051.2,630.0 L1050.0,631.9 L1051.2,633.8 L1050.0,635.7 L1051.2,637.6 L1050.0,639.5 L1051.2,641.5 L1050.0,643.4 L1051.2,645.3 L1050.0,647.2 L1051.2,649.2 L1050.0,651.1 L1051.2,653.0 L1050.0,654.9 L1051.2,656.8 L1050.0,658.7 L1051.2,660.7 L1050.0,662.6 L1051.2,664.5 L1050.0,666.4 L1051.2,668.4 L1050.0,670.3 L1051.2,672.2 L1050.0,674.1 L1051.2,676.0 L1050.0,677.9 L1051.2,679.9 " stroke-width="1.4" fill="none" />
<path d="M1096.3,557 L1097.5,558.9 L1096.3,560.8 L1097.5,562.7 L1096.3,564.7 L1097.5,566.6 L1096.3,568.5 L1097.5,570.4 L1096.3,572.4 L1097.5,574.3 L1096.3,576.2 L1097.5,578.1 L1096.3,580.0 L1097.5,581.9 L1096.3,583.9 L1097.5,585.8 L1096.3,587.7 L1097.5,589.6 L1096.3,591.6 L1097.5,593.5 L1096.3,595.4 L1097.5,597.3 L1096.3,599.2 L1097.5,601.1 L1096.3,603.1 L1097.5,605.0 L1096.3,606.9 L1097.5,608.8 L1096.3,610.8 L1097.5,612.7 L1096.3,614.6 L1097.5,616.5 L1096.3,618.4 L1097.5,620.3 L1096.3,622.3 L1097.5,624.2 L1096.3,626.1 L1097.5,628.0 L1096.3,630.0 L1097.5,631.9 L1096.3,633.8 L1097.5,635.7 L1096.3,637.6 L1097.5,639.5 L1096.3,641.5 L1097.5,643.4 L1096.3,645.3 L1097.5,647.2 L1096.3,649.2 L1097.5,651.1 L1096.3,653.0 L1097.5,654.9 L1096.3,656.8 L1097.5,658.7 L1096.3,660.7 L1097.5,662.6 L1096.3,664.5 L1097.5,666.4 L1096.3,668.4 L1097.5,670.3 L1096.3,672.2 L1097.5,674.1 L1096.3,676.0 L1097.5,677.9 L1096.3,679.9 " stroke-width="1.4" fill="none" />
<line x1="1073.5" y1="577.8" x2="1073.5" y2="614.8" stroke-width="3.9" stroke-linecap="round"/>
<line x1="1073.5" y1="662.0" x2="1073.5" y2="702.0" stroke-width="4.8" stroke-linecap="round"/>
<line x1="945.0" y1="532.5" x2="1041.0" y2="532.5" stroke-width="1.2" />
<line x1="945.0" y1="678.5" x2="1041.0" y2="678.5" stroke-width="1.2" />
<line x1="979.2" y1="533.0" x2="979.2" y2="601.8" stroke-width="1.2" />
<line x1="979.2" y1="642.0" x2="979.2" y2="678.0" stroke-width="1.2" />
<path d="M979.0,532.5 L986.4,549.5 L971.6,549.5 Z" fill="#000" stroke="none"/>
<path d="M979.0,678.5 L971.6,661.5 L986.4,661.5 Z" fill="#000" stroke="none"/>
<text x="909.9" y="631.6" font-size="34.2" text-anchor="start" fill="#000" stroke="none">35.00mm</text>
<line x1="866.0" y1="734.0" x2="866.0" y2="784.0" stroke-width="1.2" />
<line x1="1277.0" y1="734.0" x2="1277.0" y2="784.0" stroke-width="1.2" />
<line x1="866.0" y1="767.0" x2="1277.0" y2="767.0" stroke-width="1.2" />
<path d="M866.0,767.0 L883.0,759.6 L883.0,774.4 Z" fill="#000" stroke="none"/>
<path d="M1277.0,767.0 L1260.0,774.4 L1260.0,759.6 Z" fill="#000" stroke="none"/>
<text x="994" y="749.6" font-size="34.2" text-anchor="start" fill="#000" stroke="none">113.00mm</text>
<line x1="865.0" y1="796.0" x2="1278.0" y2="796.0" stroke-width="3.5" />
<path d="M926,797 V861 Q926,875 940,875 H1204 Q1218,875 1218,861 V797" stroke-width="2.9" fill="none" />
<rect x="891.5" y="840.5" width="365.0" height="5.5" rx="0" stroke-width="2.5" fill="#fff" />
<line x1="1073.3" y1="833.0" x2="1073.3" y2="870.0" stroke-width="4.8" stroke-linecap="round"/>
<path d="M987,875.5 Q994,877 995.5,885 Q997,898 1010,899.5 H1137 Q1147,898 1148.5,885 Q1150,877 1157,875.5" stroke-width="2.9" fill="none" />
<path d="M1006.5,900 V905 Q1006.5,906.8 1008.5,906.8 H1043.5 Q1045.5,906.8 1045.5,905 V900 M1036.5,900 V906.5" stroke-width="1.8" fill="none" />
<path d="M1047.5,900 V905 Q1047.5,906.8 1049.5,906.8 H1095 Q1097,906.8 1097,905 V900" stroke-width="1.8" fill="none" />
<path d="M1099,900 V905 Q1099,906.8 1101,906.8 H1136 Q1138,906.8 1138,905 V900 M1108.5,900 V906.5" stroke-width="1.8" fill="none" />
<rect x="866.6" y="916.3" width="410.4" height="14.7" fill="#000" stroke="none"/>
<path d="M866,931 H1278 Q1281,931 1281,934 V940.5 Q1281,943.6 1278,943.6 H866 Q862.4,943.6 862.4,937 Q862.4,931 866,931 Z" stroke-width="2.7" fill="none" />
<path d="M864.5,944.6 Q880,948 913.2,950.6" stroke-width="2.3" fill="none" />
<path d="M891.5,945.6 Q905,948.5 940,949.2 H1232.7 L1280.8,944" stroke-width="2.7" fill="none" />
<line x1="1231.4" y1="949.2" x2="1231.4" y2="975.0" stroke-width="2.7" />
<path d="M822.3,951.1 H912 Q917.5,951.5 920,956 Q926,975 928.3,1007.4 Q928,1035 918.6,1059.4 L917.5,1062.7 H824.4" stroke-width="2.7" fill="none" />
<path d="M819,946.8 Q822.3,948 822.3,953 V1062 Q822.3,1066 819,1067" stroke-width="2.3" fill="none" />
<path d="M823.3,1065 V986 L826.5,982.5 L829.8,986 V1063 L826.5,1067 Z" stroke-width="1.0" fill="none" />
<path d="M918.2,1062.7 Q921,1070 928,1074.5 L985.6,1106.7 H1122.7" stroke-width="2.7" fill="none" />
<path d="M985.6,1106.7 V1123.3 H1146" stroke-width="2.9" fill="none" />
<g>
<line x1="989.0" y1="1129.8" x2="1155.0" y2="1127.5" stroke-width="1.6" />
<line x1="989.0" y1="1133.3" x2="1155.0" y2="1131.0" stroke-width="1.0" />
<line x1="989.0" y1="1136.8" x2="1155.0" y2="1134.5" stroke-width="1.6" />
<line x1="989.0" y1="1140.3" x2="1155.0" y2="1138.0" stroke-width="1.0" />
<line x1="989.0" y1="1143.8" x2="1155.0" y2="1141.5" stroke-width="1.6" />
<line x1="989.0" y1="1147.3" x2="1155.0" y2="1145.0" stroke-width="1.0" />
<line x1="989.0" y1="1150.8" x2="1155.0" y2="1148.5" stroke-width="1.6" />
<line x1="989.0" y1="1154.3" x2="1155.0" y2="1152.0" stroke-width="1.0" />
<line x1="989.0" y1="1157.8" x2="1155.0" y2="1155.5" stroke-width="1.6" />
<line x1="989.0" y1="1161.3" x2="1155.0" y2="1159.0" stroke-width="1.0" />
<line x1="989.0" y1="1164.8" x2="1155.0" y2="1162.5" stroke-width="1.6" />
<line x1="989.0" y1="1168.3" x2="1155.0" y2="1166.0" stroke-width="1.0" />
</g>
<path d="M988.0,1124.5 Q984.8,1128.0 988.0,1131.5 Q984.8,1135.0 988.0,1138.5 Q984.8,1142.0 988.0,1145.5 Q984.8,1149.0 988.0,1152.5 Q984.8,1156.0 988.0,1159.5 Q984.8,1163.0 988.0,1166.5 " stroke-width="2.7" fill="none" />
<path d="M1156.5,1124.5 Q1159.7,1128.0 1156.5,1131.5 Q1159.7,1135.0 1156.5,1138.5 Q1159.7,1142.0 1156.5,1145.5 Q1159.7,1149.0 1156.5,1152.5 Q1159.7,1156.0 1156.5,1159.5 Q1159.7,1163.0 1156.5,1166.5 " stroke-width="2.7" fill="none" />
<path d="M990.2,1166 V1178.6 H1153.8 V1166" stroke-width="2.7" fill="none" />
<path d="M1003,1169.5 L998,1172 L1002,1174.5 L1150,1170" stroke-width="1.0" fill="none" />
<path d="M1135.3,977.1 Q1137,975.8 1140,975.8 H1224 Q1234,975.8 1234,986 V1112 Q1234,1123.2 1222,1123.2 H1144.4 L1112,1092.7 L1091.5,1072 Q1089.9,1070.6 1089.9,1068 V1021 Q1089.9,1018.7 1092,1017.7 L1112,1006.5 Q1114.5,1004.4 1116,1002 Z" stroke-width="2.9" fill="none" />
<path d="M1224,978.5 Q1230,980 1230,988 V1112 Q1230,1119.5 1220,1120.5" stroke-width="1.0" fill="none" />
<circle cx="1117.8" cy="1074.5" r="17.8" stroke-width="2.6" fill="#fff"/>
<circle cx="1117.8" cy="1074.5" r="15.2" stroke-width="0.9"/>
<circle cx="1117.8" cy="1074.5" r="9.5" stroke-width="2.4"/>
<path d="M1110.5,1069.5 L1121.5,1081.5 M1113.5,1066.5 L1124.5,1078.5" stroke-width="1.6" fill="none" />
<rect x="1075.0" y="1024.5" width="14.2" height="35.1" fill="#000" stroke="none"/>
<rect x="1071.0" y="1024.5" width="6.0" height="12.0" fill="#000" stroke="none"/>
<path d="M775.7,759.5 V1004 Q775.7,1032.3 800.6,1032.3 H1071" stroke-width="2.9" fill="none" />
<path d="M757.4,759 V1012.8 Q757.3,1050.7 798.4,1050.7 H1075.8" stroke-width="2.9" fill="none" />
<rect x="775.7" y="933.8" width="42.8" height="4.3" fill="#000" stroke="none"/>
<line x1="817.2" y1="933.8" x2="817.2" y2="1077.2" stroke-width="2.9" />
<rect x="802.2" y="938.0" width="5.4" height="94.0" fill="#000" stroke="none"/>
<rect x="802.2" y="1051.0" width="5.4" height="26.0" fill="#000" stroke="none"/>
<line x1="775.7" y1="965.5" x2="802.2" y2="965.5" stroke-width="2.3" />
<line x1="775.7" y1="962.0" x2="802.2" y2="962.0" stroke-width="1.5" />
<line x1="775.7" y1="969.0" x2="802.2" y2="969.0" stroke-width="1.5" />
<line x1="775.7" y1="1001.0" x2="802.2" y2="1001.0" stroke-width="1.5" />
<line x1="775.7" y1="1008.0" x2="802.2" y2="1008.0" stroke-width="1.5" />
<path d="M758.9,1051 V1067 Q758.9,1077.2 769.2,1077.2 H818.5" stroke-width="2.9" fill="none" />
<line x1="770.0" y1="1073.5" x2="802.0" y2="1073.5" stroke-width="1.2" />
<path d="M775,1043 H768 Q765.5,1045 768,1048.5 H784" stroke-width="1.8" fill="none" />
<line x1="1073.3" y1="761.5" x2="1073.3" y2="2229.2" stroke-width="4.5" stroke-dasharray="33.1 25.9 0.01 26" stroke-dashoffset="10.45" stroke-linecap="round"/>
<rect x="986.0" y="1226.0" width="174.0" height="10.0" fill="#000" stroke="none"/>
<rect x="975.2" y="1257.1" width="5.9" height="70.5" rx="3" stroke-width="2.9" fill="#fff" />
<rect x="1167.8" y="1257.1" width="7.3" height="70.5" rx="3" stroke-width="2.9" fill="#fff" />
<rect x="981.1" y="1254.6" width="186.7" height="75.5" rx="3" stroke-width="2.9" fill="#fff" />
<rect x="1003.7" y="1257.6" width="15.0" height="69.5" rx="7.5" stroke-width="2.9" fill="#fff" />
<rect x="1067.4" y="1257.6" width="15.0" height="69.5" rx="7.5" stroke-width="2.9" fill="#fff" />
<rect x="1131.5" y="1257.6" width="15.0" height="69.5" rx="7.5" stroke-width="2.9" fill="#fff" />
<line x1="1007.1" y1="1330.0" x2="1007.1" y2="1881.0" stroke-width="2.7" />
<line x1="1143.9" y1="1435.0" x2="1143.9" y2="1881.0" stroke-width="2.7" />
<path d="M1141.8,1331.7 Q1119,1355 1119,1383 Q1119,1413 1143.4,1435.6 H1177.5" stroke-width="2.7" fill="none" />
<line x1="1141.8" y1="1332.5" x2="1177.5" y2="1332.5" stroke-width="2.7" />
<rect x="1177.5" y="1315.5" width="13.0" height="135.5" rx="1.5" stroke-width="2.9" fill="#fff" />
<path d="M1190.5,1316.3 H1221 Q1233.5,1318 1233.5,1330 V1437 Q1233.5,1450.2 1221,1450.2 H1190.5" stroke-width="2.9" fill="#fff" />
<path d="M1196,1317 H1221 Q1231,1319 1232,1326" stroke-width="3.8" fill="none" />
<path d="M1196,1449.5 H1221 Q1231,1447.5 1232,1441" stroke-width="3.8" fill="none" />
<rect x="1190.5" y="1342.3" width="35.7" height="6.5" rx="3.2" stroke-width="2.7" fill="none" />
<rect x="1190.5" y="1381.3" width="35.7" height="6.5" rx="3.2" stroke-width="2.7" fill="none" />
<rect x="1190.5" y="1417.4" width="35.7" height="6.5" rx="3.2" stroke-width="2.7" fill="none" />
<path d="M1232.4,1339 H1255 L1263.3,1345.6 V1415.2 L1255,1421.2 H1232.4" stroke-width="2.9" fill="none" />
<line x1="1255.0" y1="1339.0" x2="1255.0" y2="1421.2" stroke-width="2.9" />
<path d="M1263.3,1346.2 L1288.3,1346.2 V1414.6 L1263.3,1414.6 Z" stroke-width="2.9" fill="none" />
<path d="M1288.3,1345.2 L1301.4,1348.2 V1412.7 L1288.3,1415.2 Z" stroke-width="2.9" fill="none" />
<path d="M1301.4,1345.2 L1314.5,1348.2 V1412.7 L1301.4,1415.2 Z" stroke-width="2.9" fill="none" />
<path d="M1314.5,1345.2 L1327.6,1348.2 V1412.7 L1314.5,1415.2 Z" stroke-width="2.9" fill="none" />
<path d="M1327.6,1345.2 L1340.7,1348.2 V1412.7 L1327.6,1415.2 Z" stroke-width="2.9" fill="none" />
<path d="M1340.7,1345.6 L1352.6,1349.0 V1412.0 L1340.7,1415.0 Z" stroke-width="2.9" fill="none" />
<path d="M1352.6,1349.0 L1365.1,1353.0 V1407.5 L1352.6,1412.0 Z" stroke-width="2.9" fill="none" />
<path d="M1365.1,1348.2 L1378.2,1353.8 V1406.9 L1365.1,1412.3 Z" stroke-width="2.9" fill="none" />
<path d="M1378.2,1348.2 L1391.9,1353.8 V1406.9 L1378.2,1412.3 Z" stroke-width="2.9" fill="none" />
<path d="M1391.9,1348.2 L1405.0,1353.8 V1406.9 L1391.9,1412.3 Z" stroke-width="2.9" fill="none" />
<path d="M1405.0,1348.2 L1418.1,1353.8 V1406.9 L1405.0,1412.3 Z" stroke-width="2.9" fill="none" />
<rect x="1418.1" y="1350.4" width="22.6" height="60.1" rx="1.5" stroke-width="2.9" fill="none" />
<rect x="976.2" y="1888.0" width="6.4" height="62.2" rx="3" stroke-width="2.9" fill="#fff" />
<rect x="1167.1" y="1888.0" width="7.2" height="62.2" rx="3" stroke-width="2.9" fill="#fff" />
<path d="M982.6,1887 L989.6,1881 H1160.1 L1167.1,1887 Z" stroke-width="2.9" fill="#fff" />
<rect x="982.6" y="1887.0" width="184.5" height="64.7" rx="3" stroke-width="2.9" fill="#fff" />
<rect x="1014.3" y="1888.5" width="10.0" height="61.2" rx="5.0" stroke-width="2.9" fill="#fff" />
<rect x="1070.1" y="1888.5" width="10.0" height="61.2" rx="5.0" stroke-width="2.9" fill="#fff" />
<rect x="1125.6" y="1888.5" width="11.0" height="61.2" rx="5.5" stroke-width="2.9" fill="#fff" />
<line x1="1073.3" y1="1853.0" x2="1073.3" y2="1976.0" stroke-width="4.8" />
<path d="M993.3,1958.8 L989.5,1956 L993.3,1953.5 H1157.6 L1161,1956 L1157.6,1958.8 Z" stroke-width="2.3" fill="none" />
<line x1="996.9" y1="1958.8" x2="996.9" y2="2096.9" stroke-width="2.9" />
<line x1="1151.7" y1="1958.8" x2="1151.7" y2="2096.9" stroke-width="2.9" />
<line x1="996.9" y1="2096.9" x2="1151.7" y2="2096.9" stroke-width="3.3" />
<path d="M999,2097 L1001.05,2101.7 L1001.05,2110 L1001.1,2110.0 L1001.1,2114.3 L1001.1,2118.1 L1001.3,2121.7 L1001.4,2125.2 L1001.7,2128.6 L1001.9,2131.9 L1002.3,2135.2 L1002.6,2138.4 L1003.1,2141.6 L1003.5,2144.7 L1004.0,2147.8 L1004.6,2150.9 L1005.2,2153.9 L1005.9,2156.9 L1006.6,2159.9 L1007.4,2162.8 L1008.2,2165.7 L1009.0,2168.6 L1009.9,2171.5 L1010.9,2174.3 L1011.9,2177.1 L1012.9,2179.8 L1014.0,2182.6 L1015.1,2185.3 L1016.3,2187.9 L1017.6,2190.6 L1018.8,2193.2 L1020.2,2195.7 L1021.5,2198.3 L1022.9,2200.8 L1024.4,2203.3 L1025.9,2205.7 L1027.4,2208.1 L1029.0,2210.5 L1030.7,2212.9 L1032.3,2215.2 L1034.1,2217.5 L1035.8,2219.7 L1037.6,2221.9 L1039.5,2224.1 L1041.4,2226.2 L1043.3,2228.3 L1045.3,2230.4 L1047.3,2232.4 L1049.3,2234.4 L1051.4,2236.4 L1053.5,2238.3 L1055.7,2240.2 L1057.9,2242.0 L1060.1,2243.8 L1062.4,2245.6 L1064.7,2247.3 L1067.1,2249.0 L1069.5,2250.6 L1071.9,2252.2 L1074.4,2253.8 L1076.9,2255.3 L1079.4,2256.8 L1081.9,2258.2 L1084.5,2259.6 L1087.2,2260.9 L1089.8,2262.3 L1092.5,2263.5 L1095.3,2264.7 L1098.0,2265.9 L1100.8,2267.0 L1103.6,2268.1 L1106.5,2269.2 L1109.4,2270.2 L1112.3,2271.1 L1115.3,2272.0 L1118.2,2272.9 L1121.3,2273.7 L1124.3,2274.5 L1127.4,2275.2 L1130.5,2275.9 L1133.6,2276.5 L1136.8,2277.1 L1140.0,2277.6 L1143.3,2278.1 L1146.6,2278.6 L1149.9,2279.0 L1153.3,2279.3 L1156.7,2279.7 L1160.2,2279.9 L1163.8,2280.1 L1167.4,2280.3 L1171.2,2280.4 L1175.1,2280.5 L1179.6,2280.5 L1184.2,2280.5 L1188.1,2280.4 L1191.9,2280.3 L1195.5,2280.1 L1199.1,2279.9 L1202.6,2279.7 L1206.0,2279.3 L1209.4,2279.0 L1212.7,2278.6 L1216.0,2278.1 L1219.3,2277.6 L1222.5,2277.1 L1225.7,2276.5 L1228.8,2275.9 L1231.9,2275.2 L1235.0,2274.5 L1238.0,2273.7 L1241.1,2272.9 L1244.0,2272.0 L1247.0,2271.1 L1249.9,2270.2 L1252.8,2269.2 L1255.7,2268.1 L1258.5,2267.0 L1261.3,2265.9 L1264.0,2264.7 L1266.8,2263.5 L1269.5,2262.3 L1272.1,2260.9 L1274.8,2259.6 L1277.4,2258.2 L1279.9,2256.8 L1282.4,2255.3 L1284.9,2253.8 L1287.4,2252.2 L1289.8,2250.6 L1292.2,2249.0 L1294.6,2247.3 L1296.9,2245.6 L1299.2,2243.8 L1301.4,2242.0 L1303.6,2240.2 L1305.8,2238.3 L1307.9,2236.4 L1310.0,2234.4 L1312.0,2232.4 L1314.0,2230.4 L1316.0,2228.3 L1317.9,2226.2 L1319.8,2224.1 L1321.7,2221.9 L1323.5,2219.7 L1325.2,2217.5 L1327.0,2215.2 L1328.6,2212.9 L1330.3,2210.5 L1331.9,2208.1 L1333.4,2205.7 L1334.9,2203.3 L1336.4,2200.8 L1337.8,2198.3 L1339.1,2195.7 L1340.5,2193.2 L1341.7,2190.6 L1343.0,2187.9 L1344.2,2185.3 L1345.3,2182.6 L1346.4,2179.8 L1347.4,2177.1 L1348.4,2174.3 L1349.4,2171.5 L1350.3,2168.6 L1351.1,2165.7 L1351.9,2162.8 L1352.7,2159.9 L1353.4,2156.9 L1354.1,2153.9 L1354.7,2150.9 L1355.3,2147.8 L1355.8,2144.7 L1356.2,2141.6 L1356.7,2138.4 L1357.0,2135.2 L1357.4,2131.9 L1357.6,2128.6 L1357.9,2125.2 L1358.0,2121.7 L1358.2,2118.1 L1358.2,2114.3 L1358.2,2110.0 L1358.25,2101.7 L1361,2097" stroke-width="2.9" fill="none" />
<line x1="1001.7" y1="2101.7" x2="1146.9" y2="2098.0" stroke-width="1.6" />
<line x1="1212.4" y1="2098.0" x2="1358.8" y2="2101.7" stroke-width="1.6" />
<path d="M1146.9,2097 V2104 Q1149,2119.5 1170,2119.5 H1188 Q1212.4,2119.5 1212.4,2104 V2097" stroke-width="2.7" fill="none" />
<path d="M1210,2064.8 V2096.9 H1364.8 V2064.8" stroke-width="2.9" fill="none" />
<line x1="1210.0" y1="2096.9" x2="1364.8" y2="2096.9" stroke-width="3.3" />
<rect x="1185.7" y="1992.0" width="6.4" height="71.3" rx="3" stroke-width="2.9" fill="#fff" />
<rect x="1376.7" y="1992.0" width="7.1" height="71.3" rx="3" stroke-width="2.9" fill="#fff" />
<path d="M1192.1,1991 L1199.1,1985 H1369.7 L1376.7,1991 Z" stroke-width="2.9" fill="#fff" />
<rect x="1192.1" y="1991.0" width="184.6" height="73.8" rx="3" stroke-width="2.9" fill="#fff" />
<rect x="1223.8" y="1992.5" width="10.0" height="70.3" rx="5.0" stroke-width="2.9" fill="#fff" />
<rect x="1279.0" y="1992.5" width="10.8" height="70.3" rx="5.4" stroke-width="2.9" fill="#fff" />
<rect x="1335.0" y="1992.5" width="10.7" height="70.3" rx="5.35" stroke-width="2.9" fill="#fff" />
<path d="M1216.7,1985 V1943 A135,135 0 0 1 1352.5,1808 H1403.5 L1417.5,1790.7" stroke-width="2.9" fill="none" />
<path d="M1351.7,1985 V1955 Q1351.7,1942.1 1364.8,1942.1 H1403.5 L1417.5,1961.8" stroke-width="2.9" fill="none" />
<line x1="1403.5" y1="1808.0" x2="1403.5" y2="1943.0" stroke-width="2.7" />
<path d="M1417.5,1790.7 H1720 M1768,1790.7 H2102 V1961.8 H1768 M1720,1961.8 H1417.5 V1790.7" stroke-width="3.1" fill="none" />
<line x1="1720.0" y1="1790.7" x2="1768.0" y2="1790.7" stroke-width="1.0" />
<line x1="1720.0" y1="1961.8" x2="1768.0" y2="1961.8" stroke-width="1.0" />
<path d="M1720.3,1790.7 Q1757.5,1832 1720.3,1872.5 Q1675.3,1918 1720.3,1961.8" stroke-width="3.1" fill="none" />
<path d="M1720.3,1872.5 Q1756.3,1918 1720.3,1961.8" stroke-width="3.1" fill="none" />
<path d="M1768.2,1790.7 Q1733,1832 1768.2,1872.5 Q1737,1918 1768.2,1961.8" stroke-width="3.1" fill="none" />
<path d="M1768.2,1790.7 Q1804.2,1832 1768.2,1872.5" stroke-width="3.1" fill="none" />
</svg></body></html>
